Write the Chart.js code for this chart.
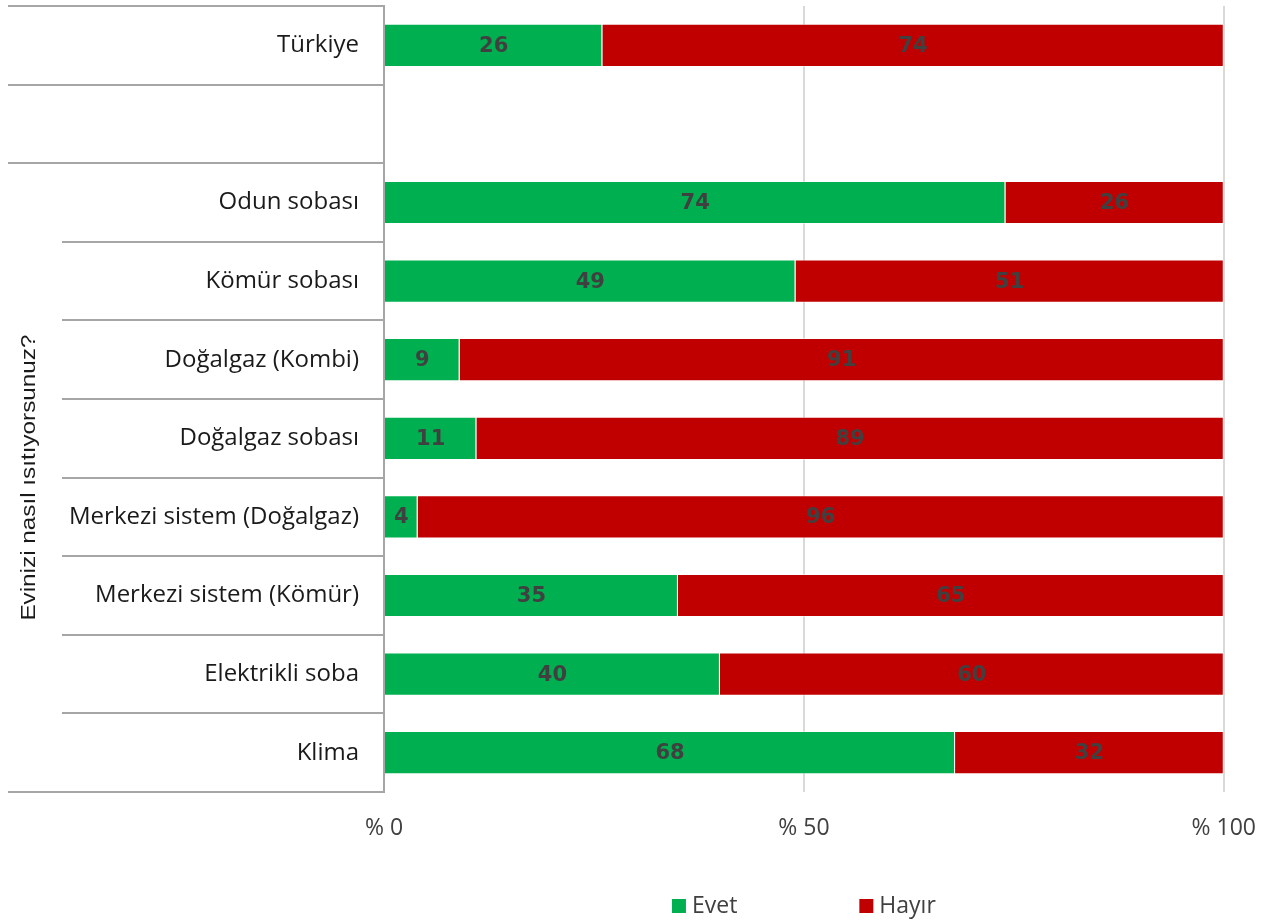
<!DOCTYPE html>
<html>
<head>
<meta charset="utf-8">
<script src="https://cdn.jsdelivr.net/npm/chart.js@4.4.1/dist/chart.umd.min.js"></script>
<style>
  html, body { margin: 0; padding: 0; background: #fff; }
  #wrap { width: 1279px; height: 922px; }
</style>
</head>
<body>
<div id="wrap"><canvas id="heat"></canvas></div>
<script>
// categories (empty row between Türkiye and the heating types)
const categories = ['Türkiye', '', 'Odun sobası', 'Kömür sobası', 'Doğalgaz (Kombi)', 'Doğalgaz sobası',
    'Merkezi sistem (Doğalgaz)', 'Merkezi sistem (Kömür)', 'Elektrikli soba', 'Klima'];
const evetValues = [26, null, 74, 49, 9, 11, 4, 35, 40, 68];
const hayirValues = [74, null, 26, 51, 91, 89, 96, 65, 60, 32];
const xTicks = [0, 50, 100];
const groupTitle = 'Evinizi nasıl ısıtıyorsunuz?';
const groupStart = 2; // first category inside the group

const FONT = '"Open Sans", "Liberation Sans", sans-serif';
const LINE = '#a6a6a6';

// values in the middle of every segment
const segmentLabels = {
    id: 'segmentLabels',
    afterDatasetsDraw(chart) {
        const { ctx } = chart;
        ctx.save();
        ctx.font = 'bold 21px "DejaVu Sans", sans-serif';
        ctx.fillStyle = '#404040';
        ctx.textAlign = 'center';
        ctx.textBaseline = 'middle';
        chart.data.datasets.forEach((ds, di) => {
            chart.getDatasetMeta(di).data.forEach((bar, i) => {
                const v = ds.data[i];
                if (v == null) return;
                ctx.fillText(v, (bar.x + bar.base) / 2, bar.y + 1);
            });
        });
        ctx.restore();
    }
};

// multi-level category frame + rotated group title + legend
const categoryFrame = {
    id: 'categoryFrame',
    afterDraw(chart) {
        const { ctx } = chart;
        const y = chart.scales.y;
        const x = chart.scales.x;
        const n = categories.length;
        const step = y.height / n;
        const axisX = x.left;
        ctx.save();
        ctx.strokeStyle = LINE;
        ctx.lineWidth = 2;
        for (let i = 0; i <= n; i++) {
            const py = Math.round(y.top + i * step);
            const startX = (i <= groupStart || i === n) ? 8 : 62;
            ctx.beginPath();
            ctx.moveTo(startX, py);
            ctx.lineTo(axisX, py);
            ctx.stroke();
        }
        // group title (Excel draws it stretched along the text)
        const gTop = y.top + groupStart * step;
        const gMid = (gTop + y.bottom) / 2;
        ctx.translate(29, gMid);
        ctx.rotate(-Math.PI / 2);
        ctx.font = '20px "Liberation Sans", Arial, sans-serif';
        const tw = ctx.measureText(groupTitle).width;
        ctx.scale(286 / tw, 1);
        ctx.fillStyle = '#1a1a1a';
        ctx.textAlign = 'center';
        ctx.textBaseline = 'middle';
        ctx.fillText(groupTitle, 0, 0);
        ctx.restore();

        // legend
        ctx.save();
        ctx.font = '23px ' + FONT;
        ctx.textBaseline = 'middle';
        ctx.textAlign = 'left';
        const box = 14, gap = 6, spacing = 122;
        const items = chart.data.datasets.map(ds => ({
            text: ds.label, color: ds.backgroundColor, w: box + gap + ctx.measureText(ds.label).width
        }));
        const total = items.reduce((s, it) => s + it.w, 0) + spacing * (items.length - 1);
        let lx = (x.left + x.right) / 2 - total / 2;
        const ly = 906;
        items.forEach(it => {
            ctx.fillStyle = it.color;
            ctx.fillRect(lx, ly - box / 2, box, box);
            ctx.fillStyle = '#404040';
            ctx.fillText(it.text, lx + box + gap, ly);
            lx += it.w + spacing;
        });
        ctx.restore();
    }
};

new Chart(document.getElementById('heat'), {
    type: 'bar',
    data: {
        labels: categories,
        datasets: [
            { label: 'Evet', data: evetValues, backgroundColor: '#00B050', borderColor: 'rgba(255,255,255,0.5)', borderWidth: 1 },
            { label: 'Hayır', data: hayirValues, backgroundColor: '#C00000', borderColor: 'rgba(255,255,255,0.5)', borderWidth: 1 }
        ]
    },
    options: {
        indexAxis: 'y',
        responsive: true,
        maintainAspectRatio: false,
        animation: false,
        barPercentage: 0.55,
        categoryPercentage: 1,
        layout: { padding: { left: 8, top: 6, right: 55, bottom: 0 } },
        plugins: {
            legend: { display: false },
            tooltip: { enabled: false }
        },
        scales: {
            x: {
                stacked: true,
                min: 0,
                max: 100,
                afterBuildTicks(scale) {
                    scale.ticks = xTicks.map(v => ({ value: v }));
                },
                afterFit(scale) { scale.height = 130; },
                ticks: {
                    padding: 23,
                    color: '#404040',
                    font: { family: FONT, size: 23 },
                    callback: v => '% ' + v
                },
                grid: { color: '#d9d9d9', lineWidth: 2, drawTicks: false },
                border: { display: false }
            },
            y: {
                stacked: true,
                afterFit(scale) {
                    scale.width = 376;
                    scale.paddingTop = 0;
                    scale.paddingBottom = 0;
                },
                ticks: {
                    padding: 25,
                    color: '#1a1a1a',
                    font: { family: FONT, size: 24 }
                },
                grid: { display: false, drawTicks: false },
                border: { display: true, color: LINE, width: 2 }
            }
        }
    },
    plugins: [segmentLabels, categoryFrame]
});
</script>
</body>
</html>
